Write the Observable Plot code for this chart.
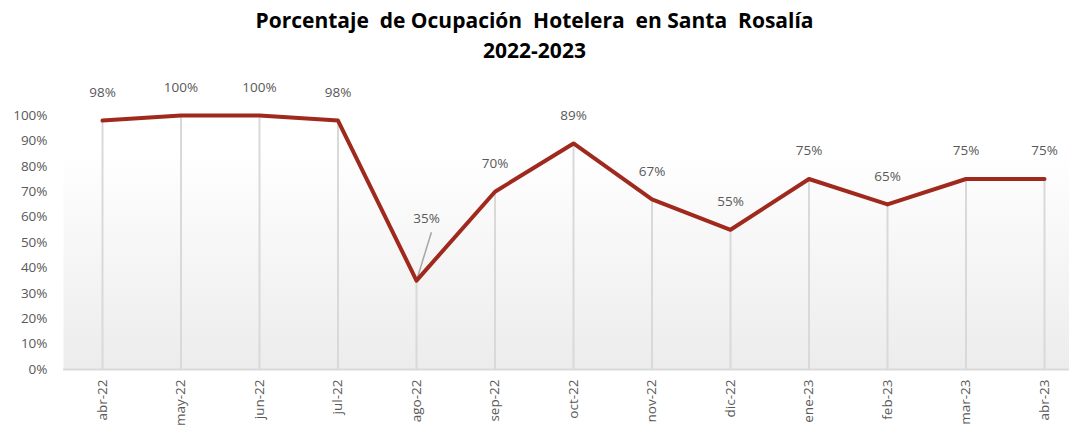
<!DOCTYPE html>
<html>
<head>
<meta charset="utf-8">
<script src="https://cdn.jsdelivr.net/npm/d3@7"></script>
<script src="https://cdn.jsdelivr.net/npm/@observablehq/plot@0.6"></script>
<style>
  html, body { margin: 0; padding: 0; background: #fff; }
  #title { height: 70px; box-sizing: border-box; padding-top: 5px; text-align: center; font-family: "Open Sans", sans-serif; font-weight: bold; font-size: 21px; line-height: 30px; color: #000; white-space: pre; }
  svg { display: block; }
</style>
</head>
<body>
<div id="title">Porcentaje  de Ocupación  Hotelera  en Santa  Rosalía
2022-2023</div>
<div id="chart"></div>
<script>
const months = ["abr-22","may-22","jun-22","jul-22","ago-22","sep-22","oct-22","nov-22","dic-22","ene-23","feb-23","mar-23","abr-23"];
const values = [0.98, 1.00, 1.00, 0.98, 0.35, 0.70, 0.89, 0.67, 0.55, 0.75, 0.65, 0.75, 0.75];
const yTicks = [0, 0.1, 0.2, 0.3, 0.4, 0.5, 0.6, 0.7, 0.8, 0.9, 1.0];
const calloutIndex = 4;

const data = months.map((m, i) => ({i, m, v: values[i]}));
const normal = data.filter(d => d.i !== calloutIndex);
const callout = data.filter(d => d.i === calloutIndex);
const gray = "#595959";

const chart = Plot.plot({
  width: 1069,
  height: 361,
  marginLeft: 63,
  marginRight: 0,
  marginTop: 5,
  marginBottom: 62,
  style: {fontFamily: "Open Sans, sans-serif", fontSize: "13px", color: gray, background: "transparent"},
  x: {type: "linear", domain: [0, months.length - 1], range: [102, 1044], label: null},
  y: {domain: [0, 1], range: [299, 45], label: null},
  marks: [
    Plot.frame({fill: "url(#bgGrad)", stroke: null}),
    Plot.ruleX(data, {x: "i", y1: 0, y2: "v", stroke: "#d9d9d9", strokeWidth: 2}),
    Plot.ruleY([0], {stroke: "#d9d9d9", strokeWidth: 2}),
    Plot.axisY({ticks: yTicks, tickFormat: d => Math.round(d * 100) + "%", tickSize: 0, tickPadding: 16, fill: gray, fontSize: 13.5}),
    Plot.axisX({ticks: d3.range(months.length), tickFormat: i => months[i], tickSize: 0, tickPadding: 10, tickRotate: -90, fill: gray, fontSize: 13.5}),
    Plot.link(callout, {x1: "i", y1: "v", x2: d => d.i + 0.19, y2: d => d.v + 0.19, stroke: "#a6a6a6", strokeWidth: 1.5}),
    Plot.line(data, {x: "i", y: "v", stroke: "#a0291e", strokeWidth: 4, strokeLinejoin: "round", strokeLinecap: "round"}),
    Plot.text(normal, {x: "i", y: "v", text: d => Math.round(d.v * 100) + "%", dy: -28, fill: gray, fontSize: 13.5}),
    Plot.text(callout, {x: "i", y: "v", text: d => Math.round(d.v * 100) + "%", dx: 10, dy: -62, fill: gray, fontSize: 13.5})
  ]
});

const ns = "http://www.w3.org/2000/svg";
const defs = document.createElementNS(ns, "defs");
const grad = document.createElementNS(ns, "linearGradient");
grad.setAttribute("id", "bgGrad");
grad.setAttribute("x1", "0"); grad.setAttribute("y1", "0");
grad.setAttribute("x2", "0"); grad.setAttribute("y2", "1");
[["0%", "#ffffff"], ["25%", "#ffffff"], ["100%", "#ececec"]].forEach(([o, c]) => {
  const s = document.createElementNS(ns, "stop");
  s.setAttribute("offset", o); s.setAttribute("stop-color", c);
  grad.appendChild(s);
});
defs.appendChild(grad);
chart.insertBefore(defs, chart.firstChild);
document.getElementById("chart").appendChild(chart);
</script>
</body>
</html>
